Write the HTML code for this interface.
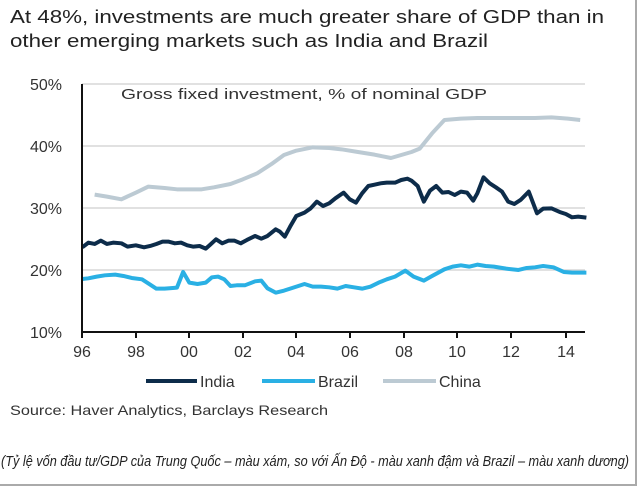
<!DOCTYPE html>
<html><head><meta charset="utf-8"><style>
html,body{margin:0;padding:0;background:#fff;}
svg{display:block;font-family:"Liberation Sans",sans-serif;}
</style></head><body>
<svg width="640" height="487" viewBox="0 0 640 487">
<rect x="0" y="0" width="640" height="487" fill="#fff"/>
<line x1="636" y1="0" x2="636" y2="485" stroke="#aaa" stroke-width="2"/>
<line x1="0" y1="485" x2="637" y2="485" stroke="#aaa" stroke-width="2"/>
<g fill="#222" font-size="18">
<text x="10" y="23" textLength="594" lengthAdjust="spacingAndGlyphs">At 48%, investments are much greater share of GDP than in</text>
<text x="10" y="47" textLength="478" lengthAdjust="spacingAndGlyphs">other emerging markets such as India and Brazil</text>
</g>
<g stroke="#cfcfcf" stroke-width="1.2">
<line x1="82" y1="84" x2="585" y2="84"/>
<line x1="82" y1="146" x2="585" y2="146"/>
<line x1="82" y1="208" x2="585" y2="208"/>
<line x1="82" y1="270" x2="585" y2="270"/>
</g>
<g fill="#333" font-size="16" text-anchor="end">
<text x="62" y="90">50%</text><text x="62" y="152">40%</text><text x="62" y="214">30%</text><text x="62" y="276">20%</text><text x="62" y="338">10%</text>
</g>
<text x="121" y="99" font-size="15" fill="#333" textLength="366" lengthAdjust="spacingAndGlyphs">Gross fixed investment, % of nominal GDP</text>
<g transform="translate(0,60) scale(0.4115,0.3333)" fill="none" stroke-linejoin="round">
<polyline vector-effect="non-scaling-stroke" stroke="#bccad3" stroke-width="4" points="230,404 260,410 295,418 330,398 360,380 400,384 430,388 490,388 520,382 560,372 590,358 625,340 660,312 690,285 720,272 760,262 800,264 830,268 870,276 910,284 950,294 1000,276 1020,266 1050,220 1080,180 1120,176 1160,174 1200,174 1260,174 1300,174 1340,172 1380,176 1410,180"/>
<polyline vector-effect="non-scaling-stroke" stroke="#2ab0e4" stroke-width="4" points="200,657 215,655 235,650 255,646 280,644 300,648 320,654 345,658 360,670 380,686 400,686 420,684 430,683 445,636 460,668 480,672 500,668 515,652 530,650 545,658 560,678 575,676 595,676 620,664 635,662 650,685 670,698 690,692 710,684 740,672 760,680 780,680 800,682 820,686 840,678 860,682 880,686 900,680 920,668 940,658 960,650 985,632 1005,650 1030,662 1050,648 1080,628 1100,620 1120,616 1140,620 1160,614 1180,618 1200,620 1230,626 1260,630 1280,624 1300,622 1320,618 1345,622 1370,636 1390,638 1425,638"/>
<polyline vector-effect="non-scaling-stroke" stroke="#0d2c4a" stroke-width="4" points="200,562 215,548 230,552 245,542 260,552 275,548 295,550 310,560 330,556 350,562 365,558 380,552 395,545 410,545 425,550 440,548 455,556 470,560 485,558 500,566 510,555 525,538 540,550 555,542 570,542 585,550 600,540 620,528 635,536 650,528 670,508 680,515 692,530 705,500 720,468 740,458 755,445 770,425 785,438 800,430 815,415 835,398 850,418 865,428 880,400 895,378 910,374 925,370 940,368 960,368 975,360 990,356 1000,362 1015,378 1030,425 1045,392 1060,378 1075,398 1090,396 1105,405 1120,395 1135,398 1150,422 1160,400 1175,352 1190,370 1205,382 1220,395 1235,425 1250,432 1265,420 1285,395 1305,460 1320,446 1340,445 1360,456 1375,462 1390,472 1405,470 1425,473"/>
</g>
<g stroke="#111" stroke-width="2">
<line x1="82" y1="84" x2="82" y2="333"/>
<line x1="81" y1="332" x2="585" y2="332"/>
<line x1="82" y1="332" x2="82" y2="338"/><line x1="136" y1="332" x2="136" y2="338"/><line x1="189" y1="332" x2="189" y2="338"/><line x1="243" y1="332" x2="243" y2="338"/><line x1="296" y1="332" x2="296" y2="338"/><line x1="350" y1="332" x2="350" y2="338"/><line x1="404" y1="332" x2="404" y2="338"/><line x1="457" y1="332" x2="457" y2="338"/><line x1="511" y1="332" x2="511" y2="338"/><line x1="566" y1="332" x2="566" y2="338"/>
</g>
<g fill="#333" font-size="16" text-anchor="middle">
<text x="82" y="357">96</text><text x="136" y="357">98</text><text x="189" y="357">00</text><text x="243" y="357">02</text><text x="296" y="357">04</text><text x="350" y="357">06</text><text x="404" y="357">08</text><text x="457" y="357">10</text><text x="511" y="357">12</text><text x="566" y="357">14</text>
</g>
<g stroke-width="4">
<line x1="146" y1="381" x2="197" y2="381" stroke="#0d2c4a"/>
<line x1="262" y1="381" x2="315" y2="381" stroke="#2ab0e4"/>
<line x1="383" y1="381" x2="436" y2="381" stroke="#bccad3"/>
</g>
<g fill="#333" font-size="16">
<text x="200" y="387">India</text><text x="318" y="387">Brazil</text><text x="439" y="387">China</text>
</g>
<text x="10" y="415" font-size="14" fill="#333" textLength="318" lengthAdjust="spacingAndGlyphs">Source: Haver Analytics, Barclays Research</text>
<text x="1" y="466" font-size="15" font-style="italic" fill="#222" textLength="628" lengthAdjust="spacingAndGlyphs">(Tỷ lệ vốn đầu tư/GDP của Trung Quốc – màu xám, so với Ấn Độ - màu xanh đậm và Brazil – màu xanh dương)</text>
</svg>
</body></html>
